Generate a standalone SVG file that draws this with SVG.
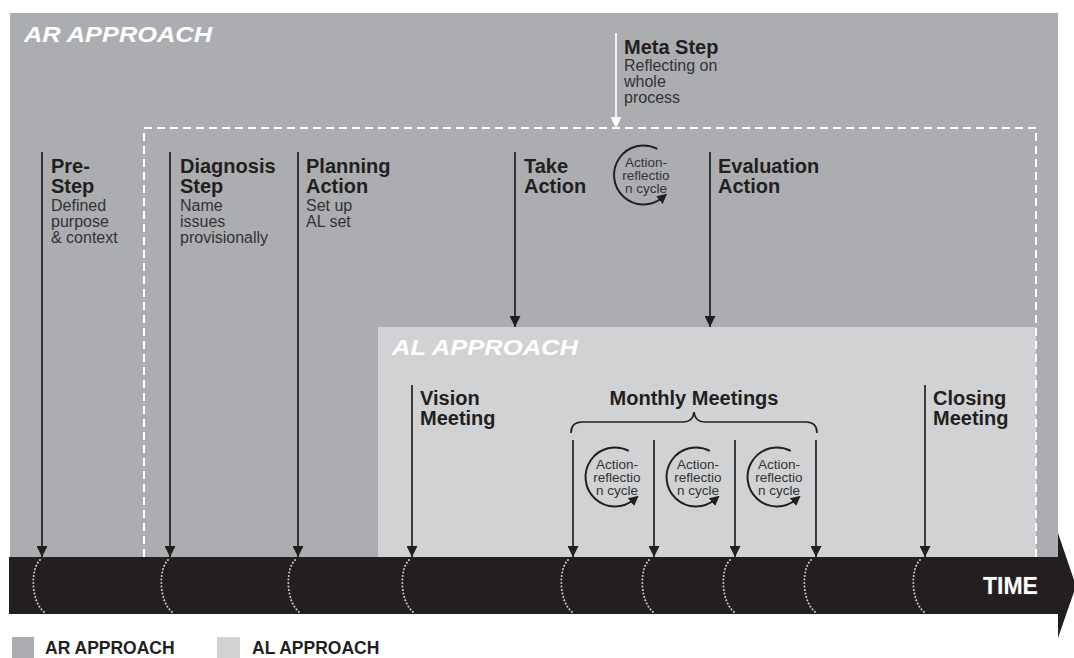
<svg xmlns="http://www.w3.org/2000/svg" xmlns:xlink="http://www.w3.org/1999/xlink" width="1074" height="658" viewBox="0 0 1074 658">
  <style>
    .title { font-family: "Liberation Sans", Arial, sans-serif; font-weight: bold; font-style: italic; font-size: 22.5px; fill: #ffffff; }
    .head { font-family: "Liberation Sans", Arial, sans-serif; font-weight: bold; font-size: 20px; fill: #231f20; }
    .desc { font-family: "Liberation Sans", Arial, sans-serif; font-size: 16px; fill: #333333; }
    .cyc { font-family: "Liberation Sans", Arial, sans-serif; font-size: 13.5px; fill: #333333; text-anchor: middle; }
    .legend { font-family: "Liberation Sans", Arial, sans-serif; font-weight: bold; font-size: 17.5px; fill: #231f20; }
    .time { font-family: "Liberation Sans", Arial, sans-serif; font-weight: bold; font-size: 23px; fill: #ffffff; stroke: #555555; stroke-width: 0.6; paint-order: stroke; }
    .pointer { stroke: #231f20; stroke-width: 1.7; fill: none; marker-end: url(#tip); }
    .stem { stroke: #231f20; stroke-width: 1.7; fill: none; }
    .dots { stroke: #c9c9c9; stroke-width: 2; fill: none; stroke-linecap: round; stroke-dasharray: 0.1 3.4; }
    .loop { stroke: #231f20; stroke-width: 2; fill: none; marker-end: url(#looptip); }
  </style>
  <defs>
    <marker id="tip" viewBox="0 0 10 10" refX="10" refY="5" markerUnits="userSpaceOnUse" markerWidth="11" markerHeight="11" orient="auto">
      <path d="M0,0 L10,5 L0,10 z" fill="#231f20"/>
    </marker>
    <marker id="whitetip" viewBox="0 0 10 10" refX="10" refY="5" markerUnits="userSpaceOnUse" markerWidth="11" markerHeight="11" orient="auto">
      <path d="M0,0 L10,5 L0,10 z" fill="#ffffff"/>
    </marker>
    <marker id="looptip" viewBox="0 0 10 10" refX="4" refY="5" markerUnits="userSpaceOnUse" markerWidth="10" markerHeight="10" orient="auto">
      <path d="M0,0 L10,5 L0,10 z" fill="#231f20"/>
    </marker>
    <!-- circular action-reflection loop, centred on the origin (r = 29.5) -->
    <path id="loop" class="loop" d="M13.8 -26.1 A29.5 29.5 0 1 0 19.0 22.6"/>
    <!-- white dotted bracket that marks an event on the time band -->
    <path id="bracket" class="dots" d="M-3 560 C-12 568 -13 600 1 612"/>
  </defs>

  <!-- page -->
  <rect x="0" y="0" width="1074" height="658" fill="#ffffff"/>

  <!-- action research field -->
  <g id="ar-approach">
    <rect x="10" y="13" width="1048" height="545" fill="#acadb0"/>
    <text class="title" x="24" y="42" textLength="188" lengthAdjust="spacingAndGlyphs">AR APPROACH</text>
  </g>

  <!-- action learning field -->
  <g id="al-approach">
    <rect x="378" y="327" width="658" height="231" fill="#d1d2d4"/>
    <text class="title" x="392" y="355" textLength="186" lengthAdjust="spacingAndGlyphs">AL APPROACH</text>
  </g>

  <!-- dashed frame around the core cycle -->
  <g id="core-frame">
    <path d="M144 557 L144 128 L1036 128 L1036 557" fill="none" stroke="#ffffff" stroke-width="2" stroke-dasharray="8 5"/>
  </g>

  <!-- time band -->
  <g id="time-band">
    <polygon points="9,557 1058,557 1058,533 1076,586 1058,638 1058,614 9,614" fill="#231f20"/>
    <text class="time" x="983" y="594">TIME</text>
    <use xlink:href="#bracket" x="43" y="0"/>
    <use xlink:href="#bracket" x="171" y="0"/>
    <use xlink:href="#bracket" x="298" y="0"/>
    <use xlink:href="#bracket" x="412" y="0"/>
    <use xlink:href="#bracket" x="571" y="0"/>
    <use xlink:href="#bracket" x="652" y="0"/>
    <use xlink:href="#bracket" x="733" y="0"/>
    <use xlink:href="#bracket" x="814" y="0"/>
    <use xlink:href="#bracket" x="923" y="0"/>
  </g>

  <!-- connectors -->
  <g id="connectors">
    <line class="pointer" x1="42" y1="152" x2="42" y2="557"/>
    <line class="pointer" x1="170" y1="152" x2="170" y2="557"/>
    <line class="pointer" x1="298" y1="152" x2="298" y2="557"/>
    <line class="pointer" x1="515" y1="152" x2="515" y2="327"/>
    <line class="pointer" x1="710" y1="152" x2="710" y2="327"/>
    <line x1="616" y1="33" x2="616" y2="128" stroke="#ffffff" stroke-width="1.7" marker-end="url(#whitetip)"/>
    <line class="pointer" x1="412" y1="385" x2="412" y2="557"/>
    <line class="pointer" x1="573" y1="440" x2="573" y2="557"/>
    <line class="pointer" x1="654" y1="440" x2="654" y2="557"/>
    <line class="pointer" x1="735" y1="440" x2="735" y2="557"/>
    <line class="pointer" x1="816" y1="440" x2="816" y2="557"/>
    <line class="pointer" x1="925" y1="385" x2="925" y2="557"/>
    <path class="stem" d="M571 433 Q571 422 582 422 L683 422 Q693 422 694 412 Q695 422 705 422 L806 422 Q817 422 817 433"/>
  </g>

  <!-- AR steps -->
  <g id="pre-step">
    <text class="head" x="51" y="173">Pre-</text>
    <text class="head" x="51" y="193">Step</text>
    <text class="desc" x="51" y="211">Defined</text>
    <text class="desc" x="51" y="227">purpose</text>
    <text class="desc" x="51" y="243">&amp; context</text>
  </g>
  <g id="diagnosis-step">
    <text class="head" x="180" y="173">Diagnosis</text>
    <text class="head" x="180" y="193">Step</text>
    <text class="desc" x="180" y="211">Name</text>
    <text class="desc" x="180" y="227">issues</text>
    <text class="desc" x="180" y="243">provisionally</text>
  </g>
  <g id="planning-action">
    <text class="head" x="306" y="173">Planning</text>
    <text class="head" x="306" y="193">Action</text>
    <text class="desc" x="306" y="211">Set up</text>
    <text class="desc" x="306" y="227">AL set</text>
  </g>
  <g id="take-action">
    <text class="head" x="524" y="173">Take</text>
    <text class="head" x="524" y="193">Action</text>
  </g>
  <g id="ar-cycle">
    <use xlink:href="#loop" x="643.5" y="175"/>
    <text class="cyc" x="646" y="167">Action-</text>
    <text class="cyc" x="646" y="180">reflectio</text>
    <text class="cyc" x="646" y="193">n cycle</text>
  </g>
  <g id="evaluation-action">
    <text class="head" x="718" y="173">Evaluation</text>
    <text class="head" x="718" y="193">Action</text>
  </g>
  <g id="meta-step">
    <text class="head" x="624" y="54">Meta Step</text>
    <text class="desc" x="624" y="71">Reflecting on</text>
    <text class="desc" x="624" y="87">whole</text>
    <text class="desc" x="624" y="103">process</text>
  </g>

  <!-- AL meetings -->
  <g id="vision-meeting">
    <text class="head" x="420" y="405">Vision</text>
    <text class="head" x="420" y="425">Meeting</text>
  </g>
  <g id="monthly-meetings">
    <text class="head" x="694" y="405" text-anchor="middle">Monthly Meetings</text>
  </g>
  <g id="al-cycle-1">
    <use xlink:href="#loop" x="615" y="477"/>
    <text class="cyc" x="617" y="469">Action-</text>
    <text class="cyc" x="617" y="482">reflectio</text>
    <text class="cyc" x="617" y="495">n cycle</text>
  </g>
  <g id="al-cycle-2">
    <use xlink:href="#loop" x="696" y="477"/>
    <text class="cyc" x="698" y="469">Action-</text>
    <text class="cyc" x="698" y="482">reflectio</text>
    <text class="cyc" x="698" y="495">n cycle</text>
  </g>
  <g id="al-cycle-3">
    <use xlink:href="#loop" x="777" y="477"/>
    <text class="cyc" x="779" y="469">Action-</text>
    <text class="cyc" x="779" y="482">reflectio</text>
    <text class="cyc" x="779" y="495">n cycle</text>
  </g>
  <g id="closing-meeting">
    <text class="head" x="933" y="405">Closing</text>
    <text class="head" x="933" y="425">Meeting</text>
  </g>

  <!-- key -->
  <g id="legend">
    <rect x="12" y="637" width="22" height="21" fill="#acadb0"/>
    <text class="legend" x="45" y="654">AR APPROACH</text>
    <rect x="217" y="637" width="23" height="21" fill="#d1d2d4"/>
    <text class="legend" x="252" y="654">AL APPROACH</text>
  </g>
</svg>
